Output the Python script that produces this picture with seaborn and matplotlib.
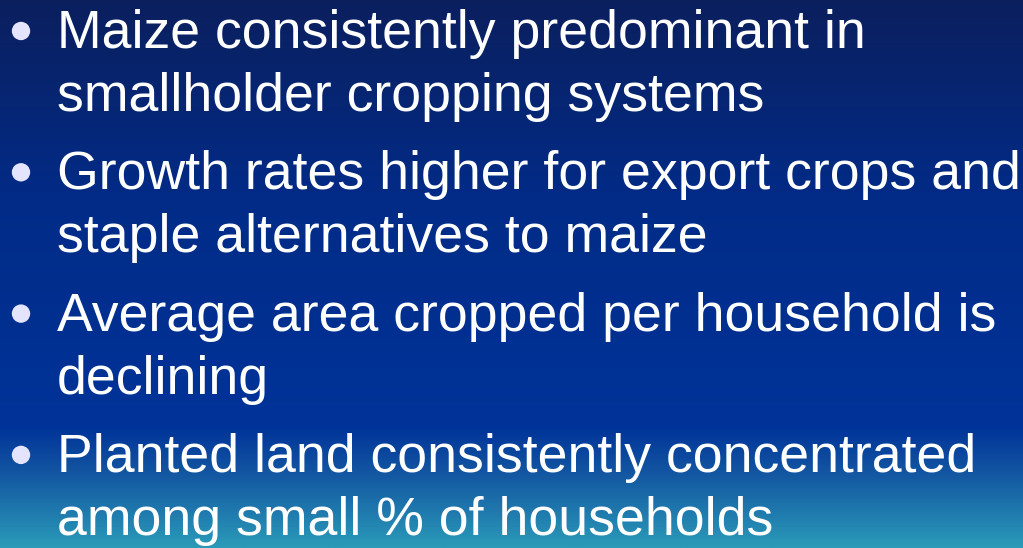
import numpy as np
import matplotlib
matplotlib.use("Agg")
import matplotlib.pyplot as plt
from matplotlib.colors import LinearSegmentedColormap
import seaborn as sns
import pandas as pd

# slide content: one entry per bullet, each with its wrapped lines
bullet_lines = [
    ["Maize consistently predominant in", "smallholder cropping systems"],
    ["Growth rates higher for export crops and", "staple alternatives to maize"],
    ["Average area cropped per household is", "declining"],
    ["Planted land consistently concentrated", "among small % of households"],
]
bullet_index = [0, 1, 2, 3]

# background gradient stops (fraction of height, colour)
grad_stops = [0.0, 0.35, 0.78, 0.87, 1.0]
grad_colors = ["#0b1f5e", "#022b86", "#003399", "#1458a2", "#2a9ab8"]

sns.set_style("white")
plt.rcParams["font.family"] = ["Liberation Sans", "DejaVu Sans"]

W, H = 1023, 548
fig = plt.figure(figsize=(W / 100, H / 100), dpi=100)
ax = fig.add_axes([0, 0, 1, 1])
ax.set_xlim(0, W)
ax.set_ylim(H, 0)
ax.axis("off")

cmap = LinearSegmentedColormap.from_list("slide", list(zip(grad_stops, grad_colors)))
grad = np.linspace(0, 1, 512).reshape(-1, 1)
ax.imshow(grad, cmap=cmap, aspect="auto", extent=(0, W, H, 0), zorder=0)

first_base = 48
step = 141.3
line_gap = 63
df = pd.DataFrame({"idx": bullet_index})
df["x"] = 21
df["y"] = first_base + df["idx"] * step - 17
sns.scatterplot(data=df, x="x", y="y", ax=ax, s=175, color="#e4e4ff",
                edgecolor="none", zorder=3, legend=False)
ax.set_xlabel("")
ax.set_ylabel("")

for i, lines in zip(bullet_index, bullet_lines):
    for j, line in enumerate(lines):
        ax.text(57, first_base + i * step + j * line_gap, line, color="white",
                fontsize=38.6, va="baseline", ha="left", zorder=4)

fig.savefig("out.png", dpi=100)
plt.close(fig)
